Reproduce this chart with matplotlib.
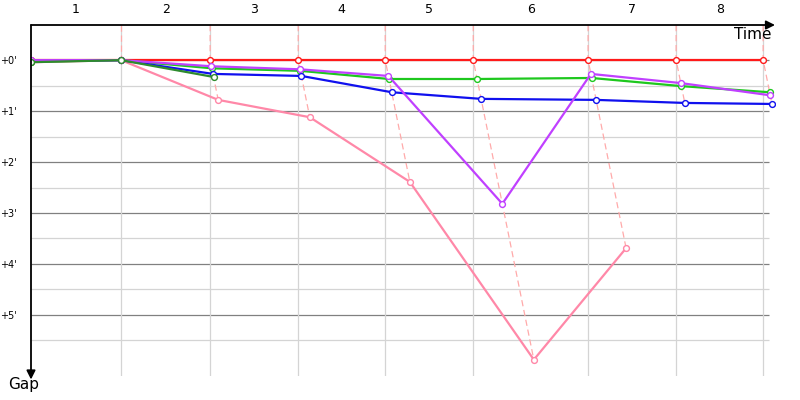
import matplotlib
matplotlib.use("Agg")
from matplotlib import pyplot as plt

# leader lap times (minutes) and gaps to leader (minutes) at each lap, lap 0 = start
lap_times = [8.75, 8.65, 8.55, 8.45, 8.55, 11.15, 8.55, 8.45]
lap_labels = ['1', '2', '3', '4', '5', '6', '7', '8']

riders = ['red', 'pink', 'green', 'blue', 'purple', 'darkgreen']
colors = {'red': '#ff1a1a', 'pink': '#ff88a8', 'green': '#1ec81e',
          'blue': '#1010ee', 'purple': '#c040ff', 'darkgreen': '#2e8b2e'}
gaps = {
    'red':       [0.00, 0.00, 0.00, 0.00, 0.00, 0.00, 0.00, 0.00, 0.00],
    'pink':      [0.04, 0.00, 0.78, 1.12, 2.39, 5.88, 3.69],
    'green':     [0.03, 0.00, 0.16, 0.21, 0.37, 0.37, 0.35, 0.51, 0.63],
    'blue':      [0.01, 0.00, 0.27, 0.31, 0.63, 0.76, 0.78, 0.84, 0.86],
    'purple':    [0.00, 0.00, 0.12, 0.18, 0.31, 2.82, 0.27, 0.45, 0.69],
    'darkgreen': [0.04, 0.00, 0.33],
}

gap_ticks = [0, 1, 2, 3, 4, 5]
gap_labels = ["+0'", "+1'", "+2'", "+3'", "+4'", "+5'"]

leader = [0.0]
for t in lap_times:
    leader.append(leader[-1] + t)

fig = plt.figure(figsize=(8, 4), dpi=100)
ax = fig.add_axes([31 / 800, 1 - 376 / 400, (775 - 31) / 800, (376 - 25) / 400])
x_max = 72.25
y_top, y_bot = -0.69, 6.2
ax.set_xlim(0, x_max)
ax.set_ylim(y_bot, y_top)

# grid
x_grid_end = 71.7
for g in [i * 0.5 for i in range(12)]:
    c = '#808080' if g == int(g) else '#d4d4d4'
    ax.hlines(g, 0, x_grid_end, color=c, lw=0.9, zorder=1)
for t in leader[1:]:
    ax.vlines(t, y_top, y_bot, color='#d4d4d4', lw=0.9, zorder=1)

# lap lines (dashed) through each rider's point at the same lap
for k in range(1, len(leader)):
    pts = []
    for r in riders:
        if k < len(gaps[r]):
            pts.append(gaps[r][k])
    pts.sort()
    xs = [leader[k]] + [leader[k] + g for g in pts]
    ys = [y_top] + pts
    ax.plot(xs, ys, color='#ffaaaa', lw=0.9, ls=(0, (5, 3)), zorder=2)

# rider lines
for r in riders:
    g = gaps[r]
    xs = [leader[k] + g[k] for k in range(len(g))]
    ax.plot(xs, g, color=colors[r], lw=1.6, zorder=3, marker='o', ms=4.2,
            mfc='white', mec=colors[r], mew=1.0)

for s in ax.spines.values():
    s.set_visible(False)
ax.set_xticks([])
ax.set_yticks(gap_ticks)
ax.set_yticklabels(gap_labels, fontsize=7)
ax.tick_params(axis='y', length=0, pad=10)

# axes arrows
ax.annotate('', xy=(1.0, 1.0), xytext=(0, 1.0), xycoords='axes fraction',
            arrowprops=dict(arrowstyle='-|>', color='black', lw=1.3, mutation_scale=13,
                            shrinkA=0, shrinkB=0))
ax.annotate('', xy=(0, -0.01), xytext=(0, 1.0), xycoords='axes fraction',
            arrowprops=dict(arrowstyle='-|>', color='black', lw=1.3, mutation_scale=13,
                            shrinkA=0, shrinkB=0))

# lap numbers on top
for i, lab in enumerate(lap_labels):
    mid = (leader[i] + leader[i + 1]) / 2
    ax.text(mid, y_top - 0.17, lab, ha='center', va='bottom', fontsize=9, clip_on=False)

fig.text(772 / 800, 1 - 27 / 400, 'Time', ha='right', va='top', fontsize=11)
fig.text(24 / 800, 1 - 377 / 400, 'Gap', ha='center', va='top', fontsize=11)

fig.savefig('out.png', dpi=100)
